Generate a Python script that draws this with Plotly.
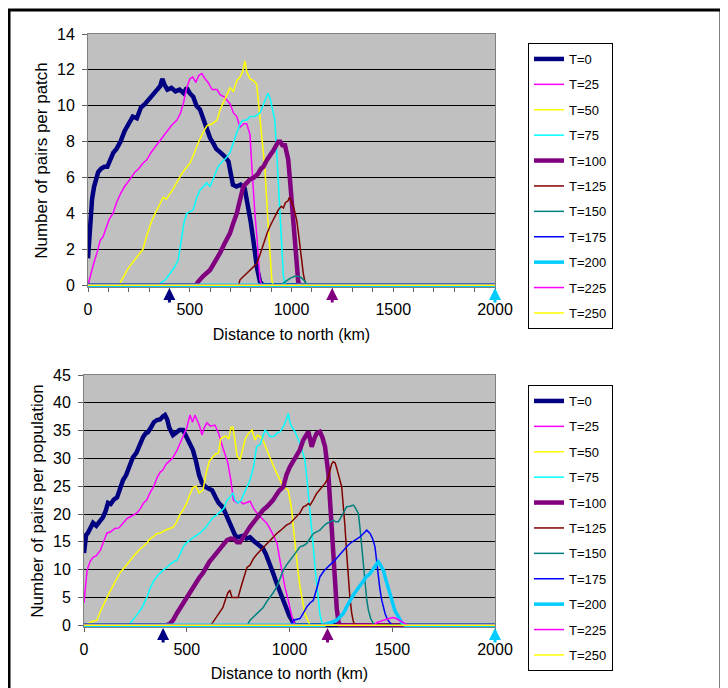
import plotly.graph_objects as go

# ---------------- data (km, value) ----------------
labels = ["T=0", "T=25", "T=50", "T=75", "T=100", "T=125", "T=150", "T=175", "T=200", "T=225", "T=250"]
colors = ["#000080", "#FF00FF", "#FFFF00", "#00FFFF", "#800080", "#800000", "#008080", "#0000FF", "#00CCFF", "#FF00FF", "#FFFF00"]
widths = [4.5, 1.5, 1.5, 1.5, 4.5, 1.5, 1.5, 1.5, 3.5, 1.5, 1.5]

# Top chart: number of pairs per patch
top_T0 = [(0,1.5),(5,2.4),(10,3.6),(20,4.8),(30,5.5),(40,6.0),(50,6.3),(65,6.5),(80,6.6),(95,6.6),(110,7.0),(125,7.4),(140,7.6),(160,8.0),(180,8.6),(200,9.0),(220,9.4),(240,9.3),(260,9.9),(280,10.1),(300,10.4),(320,10.7),(340,10.9),(355,11.1),(365,11.5),(375,11.2),(390,10.9),(410,11.0),(430,10.8),(450,10.9),(470,10.7),(485,11.0),(500,10.7),(517,10.5),(533,10.0),(550,9.8),(566,9.3),(583,8.8),(600,8.2),(616,7.9),(630,7.6),(650,7.4),(670,7.2),(690,6.9),(700,6.4),(712,5.6),(730,5.5),(750,5.6),(770,5.4),(785,4.6),(800,3.5),(815,2.3),(830,1.0),(845,0.2),(860,0),(2000,0)]
top_T25 = [(0,0),(10,0.5),(25,1.1),(44,1.8),(60,2.5),(74,2.7),(90,3.2),(105,3.7),(123,4.0),(140,4.6),(160,5.1),(180,5.5),(206,5.9),(230,6.3),(250,6.5),(270,6.8),(290,7.0),(310,7.4),(330,7.7),(350,8.0),(369,8.3),(390,8.6),(410,8.9),(437,9.2),(455,9.6),(470,10.2),(485,11.0),(501,11.5),(515,11.6),(530,11.3),(545,11.7),(560,11.8),(575,11.5),(590,11.3),(610,10.9),(634,10.9),(650,10.6),(670,10.5),(698,10.1),(715,9.6),(731,9.4),(747,8.8),(765,9.0),(780,9.0),(796,8.4),(803,7.0),(811,5.5),(820,4.0),(830,2.7),(838,1.2),(845,0.3),(855,0),(2000,0)]
top_T50 = [(0,0),(150,0),(157,0.1),(175,0.5),(195,0.9),(215,1.2),(235,1.5),(255,1.8),(270,2.0),(290,2.8),(310,3.5),(330,4.0),(354,4.6),(370,4.9),(385,4.8),(403,5.1),(420,5.4),(440,5.8),(460,6.2),(480,6.5),(501,6.8),(520,7.3),(540,7.9),(565,8.5),(585,8.9),(610,9.0),(634,9.2),(650,9.8),(670,10.3),(685,10.6),(698,11.0),(715,10.8),(731,11.4),(747,11.6),(760,11.9),(771,12.5),(780,11.9),(796,11.5),(813,11.4),(829,11.2),(845,9.2),(858,7.8),(870,6.4),(884,3.6),(895,1.5),(903,0.3),(910,0),(2000,0)]
top_T75 = [(0,0),(340,0),(354,0.1),(380,0.3),(403,0.65),(425,1.0),(443,1.4),(452,2.0),(460,2.7),(472,3.5),(485,4.0),(500,4.1),(517,4.2),(535,4.9),(550,5.3),(567,5.5),(583,5.7),(600,5.5),(620,6.1),(639,6.6),(660,6.9),(680,7.1),(698,7.4),(715,8.0),(731,8.5),(748,9.0),(763,9.2),(780,9.2),(796,9.4),(820,9.4),(845,9.6),(860,10.0),(875,10.4),(884,10.7),(895,10.4),(905,9.9),(918,9.2),(927,7.5),(935,5.9),(944,3.5),(952,1.8),(960,0.5),(968,0.1),(975,0),(2000,0)]
top_T100 = [(0,0),(530,0),(542,0.2),(565,0.5),(600,0.85),(625,1.3),(649,1.8),(670,2.3),(698,2.9),(715,3.5),(731,4.0),(748,4.8),(763,5.5),(780,5.7),(796,5.9),(815,6.0),(835,6.2),(850,6.5),(862,6.6),(880,7.0),(895,7.2),(911,7.5),(925,7.8),(935,8.0),(945,8.0),(955,7.8),(968,7.8),(976,7.5),(984,7.0),(993,5.8),(1001,4.6),(1009,3.2),(1017,1.8),(1025,0.8),(1033,0.2),(1040,0),(2000,0)]
top_T125 = [(0,0),(740,0),(747,0.3),(765,0.5),(780,0.65),(796,0.8),(810,1.0),(829,1.2),(845,1.7),(862,2.3),(880,2.9),(895,3.3),(911,3.7),(925,4.0),(935,4.2),(950,4.4),(960,4.3),(970,4.6),(983,4.7),(990,4.9),(1000,4.6),(1009,4.4),(1018,4.0),(1026,3.6),(1034,2.9),(1042,2.1),(1050,1.3),(1058,0.65),(1066,0.2),(1075,0),(2000,0)]
top_T150 = [(0,0),(950,0),(958,0.1),(975,0.25),(995,0.4),(1015,0.5),(1032,0.5),(1045,0.45),(1060,0.3),(1072,0.1),(1080,0),(2000,0)]
top_T175 = [(0,0),(2000,0)]
top_T200 = [(0,0),(2000,0)]
top_T225 = [(0,0),(2000,0)]
top_T250 = [(0,0),(2000,0)]

# Bottom chart: number of pairs per population
bot_T0 = [(0,13.0),(5,15.0),(10,16.2),(19,16.6),(30,17.5),(44,18.4),(60,17.9),(75,18.6),(92,19.4),(105,20.5),(117,22.0),(130,21.8),(145,22.6),(161,23.0),(175,24.5),(190,26.1),(205,27.0),(220,28.5),(238,30.2),(255,31.0),(270,32.5),(287,33.8),(300,34.5),(311,34.7),(325,35.5),(340,36.5),(355,36.9),(370,37.0),(385,37.6),(394,37.8),(405,37.0),(415,35.5),(433,34.2),(450,34.6),(465,35.1),(482,35.1),(495,34.0),(510,33.0),(530,31.5),(545,29.5),(560,27.0),(574,25.6),(590,24.9),(605,24.6),(623,24.3),(640,23.0),(655,22.0),(676,21.2),(690,20.0),(705,18.5),(720,17.2),(735,16.2),(745,15.8),(760,15.9),(775,16.1),(790,15.6),(808,15.8),(825,15.2),(840,14.7),(855,14.2),(871,13.8),(885,12.8),(900,11.5),(920,9.4),(935,7.8),(950,6.3),(968,4.5),(985,2.8),(1000,1.6),(1012,0.9),(1020,0.2),(1030,0),(2000,0)]
bot_T25 = [(0,4.0),(5,5.8),(10,8.5),(15,9.9),(30,11.5),(44,12.2),(60,12.5),(80,13.5),(95,15.0),(112,16.6),(130,16.8),(150,17.4),(170,17.5),(190,18.4),(210,19.2),(230,19.6),(258,20.2),(275,21.0),(290,22.0),(305,22.5),(321,23.8),(340,25.0),(355,26.5),(370,27.5),(384,27.9),(400,29.0),(415,29.5),(430,30.0),(453,31.5),(470,33.0),(485,34.5),(501,35.6),(510,37.0),(516,37.8),(528,36.5),(540,37.8),(555,36.5),(565,35.5),(574,34.2),(585,35.5),(598,36.4),(615,35.8),(637,36.0),(655,34.5),(675,32.0),(690,30.5),(700,29.2),(715,26.0),(727,22.5),(745,22.0),(760,22.3),(775,21.8),(790,22.0),(808,22.3),(825,21.0),(845,20.0),(871,19.0),(890,18.3),(910,17.0),(925,15.8),(939,14.8),(952,12.0),(965,9.0),(978,6.8),(988,5.4),(1000,3.2),(1010,1.8),(1017,0.9),(1025,0.2),(1035,0),(2000,0)]
bot_T50 = [(0,0),(10,0.2),(25,0.4),(45,0.7),(63,0.9),(80,2.5),(95,3.8),(112,5.0),(130,6.3),(150,7.8),(175,9.4),(200,10.5),(224,11.7),(250,12.8),(275,13.8),(290,14.2),(306,14.8),(320,15.5),(340,16.0),(355,16.5),(374,16.6),(390,17.0),(410,17.3),(433,17.6),(450,18.5),(465,19.8),(482,20.7),(500,22.0),(515,23.5),(530,24.8),(545,25.0),(560,23.8),(579,24.3),(595,27.5),(610,29.5),(628,30.2),(640,30.8),(655,31.0),(665,33.5),(676,33.8),(690,34.0),(705,33.5),(715,35.6),(725,35.6),(735,33.0),(745,30.5),(759,29.7),(770,31.5),(785,33.5),(800,34.5),(818,35.1),(832,33.3),(845,34.2),(860,33.8),(871,33.3),(890,31.5),(905,30.3),(920,28.8),(938,27.3),(955,26.0),(970,24.9),(994,24.3),(1003,22.5),(1011,20.7),(1019,17.5),(1027,14.1),(1039,10.5),(1051,6.9),(1063,4.2),(1075,2.1),(1092,0.6),(1100,0),(2000,0)]
bot_T75 = [(0,0),(215,0),(224,0.3),(240,1.0),(260,2.0),(280,3.0),(306,5.0),(320,6.5),(340,8.0),(360,9.0),(384,9.9),(400,10.3),(420,11.0),(440,11.5),(453,11.7),(470,13.0),(485,14.2),(501,14.9),(520,15.5),(540,16.0),(565,16.6),(590,17.5),(610,18.5),(628,19.4),(645,19.8),(665,20.5),(680,21.0),(696,22.5),(710,23.0),(725,23.8),(735,22.5),(750,22.0),(765,22.5),(780,23.8),(795,25.0),(808,26.1),(825,28.5),(840,32.1),(857,32.5),(870,34.0),(881,35.1),(895,34.5),(905,33.9),(925,34.0),(938,34.5),(955,34.8),(970,35.7),(985,37.0),(994,38.1),(1002,36.5),(1011,35.7),(1027,34.8),(1040,33.8),(1051,32.7),(1063,31.2),(1075,29.7),(1083,27.0),(1092,23.7),(1100,20.5),(1108,17.7),(1116,14.0),(1124,10.5),(1132,7.5),(1140,4.5),(1148,2.0),(1157,0.6),(1165,0),(2000,0)]
bot_T100 = [(0,0),(400,0),(419,0.3),(435,1.0),(453,2.2),(470,3.2),(485,4.3),(500,5.0),(516,5.8),(530,6.8),(545,7.8),(560,8.5),(579,9.4),(595,10.5),(610,11.4),(628,12.2),(645,13.0),(660,13.8),(675,14.6),(696,15.3),(715,15.6),(730,15.5),(745,14.9),(759,14.9),(775,15.8),(790,16.8),(808,17.7),(823,18.4),(840,19.3),(855,20.0),(871,20.7),(890,21.3),(905,21.8),(920,22.5),(935,23.4),(950,24.2),(970,24.9),(985,27.0),(1002,28.5),(1020,29.5),(1035,30.3),(1050,31.5),(1067,33.3),(1080,34.0),(1092,34.8),(1100,33.5),(1108,32.1),(1120,33.5),(1132,34.5),(1148,34.8),(1160,33.8),(1173,32.1),(1181,30.0),(1189,27.3),(1197,22.5),(1205,17.7),(1213,12.0),(1221,6.9),(1230,3.0),(1238,0.6),(1245,0),(2000,0)]
bot_T125 = [(0,0),(610,0),(623,0.3),(640,1.2),(655,2.0),(676,3.2),(690,4.8),(700,5.8),(710,6.3),(720,5.0),(735,5.0),(750,5.0),(765,7.0),(780,9.0),(793,10.4),(808,10.8),(825,12.0),(840,12.7),(855,13.3),(871,14.0),(890,14.6),(905,15.2),(920,15.9),(938,16.5),(955,17.0),(970,17.5),(985,18.0),(1002,18.3),(1020,19.0),(1035,19.7),(1051,20.2),(1067,21.3),(1080,21.5),(1092,21.9),(1100,21.6),(1115,22.5),(1132,23.7),(1150,24.5),(1173,25.5),(1188,26.5),(1197,27.9),(1205,29.0),(1213,29.4),(1222,29.2),(1230,28.2),(1238,27.3),(1246,26.0),(1254,24.9),(1262,21.5),(1270,17.7),(1278,13.0),(1286,8.7),(1294,5.0),(1303,2.1),(1311,0.6),(1319,0),(2000,0)]
bot_T150 = [(0,0),(795,0),(808,0.9),(835,1.8),(850,2.4),(872,3.2),(890,4.3),(905,5.0),(920,5.8),(938,6.9),(955,8.4),(970,9.9),(985,10.8),(1002,11.7),(1020,12.5),(1035,13.3),(1051,14.1),(1067,14.3),(1084,14.7),(1100,15.6),(1116,16.5),(1132,16.8),(1148,17.1),(1165,17.8),(1181,18.3),(1197,18.6),(1213,18.9),(1225,18.6),(1238,18.6),(1250,19.4),(1265,20.5),(1278,21.3),(1295,21.4),(1311,21.6),(1322,21.0),(1335,20.1),(1343,17.5),(1351,14.1),(1360,10.5),(1368,6.9),(1376,4.5),(1384,2.7),(1395,1.2),(1408,0.3),(1415,0),(2000,0)]
bot_T175 = [(0,0),(1005,0),(1019,0.9),(1035,1.0),(1051,1.2),(1068,2.2),(1084,3.3),(1100,4.0),(1116,4.5),(1132,6.5),(1148,8.7),(1168,9.8),(1189,10.5),(1205,11.2),(1221,11.7),(1240,12.5),(1262,13.5),(1278,14.1),(1294,14.7),(1315,15.2),(1343,15.9),(1360,16.5),(1376,17.1),(1392,16.5),(1405,15.5),(1416,14.1),(1424,11.5),(1432,8.7),(1440,6.5),(1449,4.5),(1457,3.0),(1465,2.1),(1477,1.0),(1489,0.5),(1500,0),(2000,0)]
bot_T200 = [(0,0),(1170,0),(1181,0.3),(1205,0.5),(1230,0.9),(1246,1.4),(1262,2.1),(1278,3.3),(1294,4.5),(1310,5.4),(1327,6.3),(1343,7.2),(1359,8.1),(1376,8.8),(1392,9.3),(1410,10.2),(1425,11.0),(1432,11.4),(1440,11.0),(1449,10.5),(1457,9.8),(1465,8.7),(1477,7.2),(1489,5.7),(1497,4.5),(1505,3.3),(1513,2.6),(1521,2.1),(1530,1.4),(1538,0.9),(1546,0.5),(1554,0.2),(1562,0),(2000,0)]
bot_T225 = [(0,0),(1410,0),(1426,0.5),(1445,0.8),(1465,1.0),(1485,1.2),(1504,1.4),(1520,1.2),(1535,0.9),(1550,0.5),(1565,0.15),(1575,0),(2000,0)]
bot_T250 = [(0,0),(2000,0)]

top_series = [top_T0, top_T25, top_T50, top_T75, top_T100, top_T125, top_T150, top_T175, top_T200, top_T225, top_T250]
bot_series = [bot_T0, bot_T25, bot_T50, bot_T75, bot_T100, bot_T125, bot_T150, bot_T175, bot_T200, bot_T225, bot_T250]

x_tickvals = [0, 500, 1000, 1500, 2000]
top_y_range = [-0.1, 14]
bot_y_range = [-0.32, 45]
top_y_ticks = [0, 2, 4, 6, 8, 10, 12, 14]
bot_y_ticks = [0, 5, 10, 15, 20, 25, 30, 35, 40, 45]
top_title = "Number of pairs per patch"
bot_title = "Number of pairs per population"
x_title = "Distance to north (km)"

# arrows under the x axes (km)
arrow_top_x = [400, 1200, 2000]
arrow_bot_x = [385, 1185, 2000]
arrow_colors = ["#000080", "#800080", "#00CCFF"]

# ---------------- figure ----------------
# the page body adds an 8 px offset, so the figure is 8 px smaller and all
# screen positions below are shifted by 8 px
OFF = 8
W, H = 728 - OFF, 688 - OFF
FONT = "Liberation Sans, Arial, sans-serif"
fig = go.Figure()

for i, (name, col, w) in enumerate(zip(labels, colors, widths)):
    xs, ys = zip(*top_series[i])
    fig.add_trace(go.Scatter(x=xs, y=ys, mode="lines", name=name, line=dict(color=col, width=w),
                             xaxis="x", yaxis="y", legend="legend", legendgroup="a" + name))
for i, (name, col, w) in enumerate(zip(labels, colors, widths)):
    xs, ys = zip(*bot_series[i])
    fig.add_trace(go.Scatter(x=xs, y=ys, mode="lines", name=name, line=dict(color=col, width=w),
                             xaxis="x2", yaxis="y2", legend="legend2", legendgroup="b" + name))

def px_x(p):
    return (p - OFF) / W

def px_y(p):
    return 1 - (p - OFF) / H

axis_common = dict(showline=True, linecolor="#808080", linewidth=1, mirror=True, zeroline=False,
                   layer="below traces",
                   tickfont=dict(family=FONT, size=16, color="black"))

fig.update_layout(
    width=W, height=H,
    margin=dict(l=0, r=0, t=0, b=0, autoexpand=False),
    paper_bgcolor="white",
    plot_bgcolor="#C0C0C0",
    font=dict(family=FONT, size=16, color="black"),
    xaxis=dict(domain=[px_x(88), px_x(495)], anchor="y", range=[0, 2000], tickvals=x_tickvals,
               ticks="outside", ticklen=4, tickcolor="#606060", ticklabelstandoff=4,
               minor=dict(dtick=100, tick0=0, ticks="outside", ticklen=4, tickcolor="#606060", showgrid=False),
               showgrid=False, title=dict(text=x_title, font=dict(family=FONT, size=16), standoff=11),
               **axis_common),
    yaxis=dict(domain=[px_y(287), px_y(34)], anchor="x", range=top_y_range, tickvals=top_y_ticks,
               ticks="outside", ticklen=5, tickcolor="#606060", ticklabelstandoff=4,
               showgrid=True, gridcolor="#000000", gridwidth=1,
               title=dict(text=top_title, font=dict(family=FONT, size=17), standoff=5),
               **axis_common),
    xaxis2=dict(domain=[px_x(84), px_x(495)], anchor="y2", range=[0, 2000], tickvals=x_tickvals,
                ticks="outside", ticklen=4, tickcolor="#606060", ticklabelstandoff=4,
                showgrid=False, title=dict(text=x_title, font=dict(family=FONT, size=16), standoff=10),
                **axis_common),
    yaxis2=dict(domain=[px_y(627), px_y(375)], anchor="x2", range=bot_y_range, tickvals=bot_y_ticks,
                ticks="outside", ticklen=5, tickcolor="#606060", ticklabelstandoff=4,
                showgrid=True, gridcolor="#000000", gridwidth=1,
                title=dict(text=bot_title, font=dict(family=FONT, size=17), standoff=5),
                **axis_common),
    legend=dict(x=px_x(528), y=px_y(43), xanchor="left", yanchor="top", bgcolor="white",
                bordercolor="black", borderwidth=1, font=dict(family=FONT, size=13),
                traceorder="grouped", tracegroupgap=5.5),
    legend2=dict(x=px_x(528), y=px_y(385), xanchor="left", yanchor="top", bgcolor="white",
                 bordercolor="black", borderwidth=1, font=dict(family=FONT, size=13),
                 traceorder="grouped", tracegroupgap=5.5),
    showlegend=True,
)

# outer frame
fig.add_shape(type="rect", xref="paper", yref="paper", x0=px_x(9), x1=px_x(721), y0=-0.05, y1=px_y(10),
              line=dict(color="black", width=3), fillcolor="rgba(0,0,0,0)", layer="above")

# arrows
for xv, col in zip(arrow_top_x, arrow_colors):
    fig.add_annotation(x=xv, y=-1 / 253, xref="x", yref="y domain", ax=0, ay=16, text="",
                       showarrow=True, arrowhead=2, arrowsize=0.8, arrowwidth=3, arrowcolor=col)
for xv, col in zip(arrow_bot_x, arrow_colors):
    fig.add_annotation(x=xv, y=-1 / 252, xref="x2", yref="y2 domain", ax=0, ay=16, text="",
                       showarrow=True, arrowhead=2, arrowsize=0.8, arrowwidth=3, arrowcolor=col)

fig.write_html("out.html")
